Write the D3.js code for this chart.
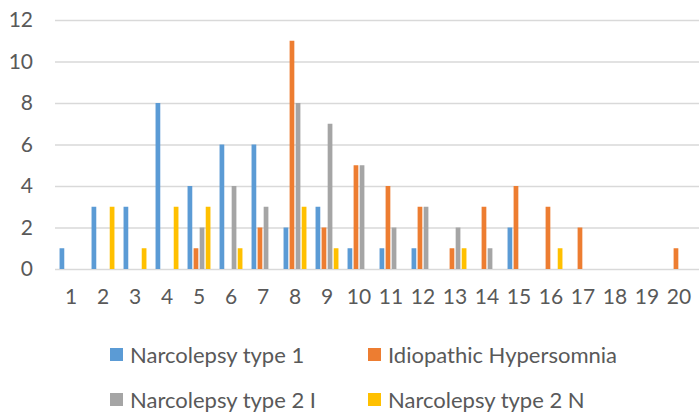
<!DOCTYPE html>
<html>
<head>
<meta charset="utf-8">
<script src="https://cdn.jsdelivr.net/npm/d3@7"></script>
<style>
  body { margin: 0; background: #fff; }
  svg { display: block; }
</style>
</head>
<body>
<div id="chart"></div>
<script>
const categories = ['1', '2', '3', '4', '5', '6', '7', '8', '9', '10', '11', '12', '13', '14', '15', '16', '17', '18', '19', '20']
const seriesNames = ['Narcolepsy type 1', 'Idiopathic Hypersomnia', 'Narcolepsy type 2 I', 'Narcolepsy type 2 N']
const seriesColors = ['#5b9bd5', '#ed7d31', '#a5a5a5', '#ffc000']
const nt1 = [1, 3, 3, 8, 4, 6, 6, 2, 3, 1, 1, 1, 0, 0, 2, 0, 0, 0, 0, 0]
const ih = [0, 0, 0, 0, 1, 0, 2, 11, 2, 5, 4, 3, 1, 3, 4, 3, 2, 0, 0, 1]
const nt2i = [0, 0, 0, 0, 2, 4, 3, 8, 7, 5, 2, 3, 2, 1, 0, 0, 0, 0, 0, 0]
const nt2n = [0, 3, 1, 3, 3, 1, 0, 3, 1, 0, 0, 0, 1, 0, 0, 1, 0, 0, 0, 0]
const yTicks = [0, 2, 4, 6, 8, 10, 12]

const seriesValues = [nt1, ih, nt2i, nt2n]
const font = 'Lato, "Open Sans", sans-serif'
const textColor = '#595959'

const svg = d3.select('#chart')
  .append('svg')
  .attr('width', 699)
  .attr('height', 412)

const margin = { top: 20, left: 55 }
const plotRight = 695
const plotBottom = 269

const x = d3.scaleBand().domain(categories).range([margin.left, plotRight]).padding(0)
const x1 = d3.scaleBand().domain(seriesNames).range([0, x.bandwidth()])
  .paddingInner(0.22).paddingOuter(0.75)
const y = d3.scaleLinear().domain([0, 12]).range([plotBottom, margin.top])

// gridlines + y labels
const yAxis = svg.append('g')
  .attr('transform', `translate(${margin.left},0)`)
  .call(d3.axisLeft(y).tickValues(yTicks).tickSize(-(699 - margin.left)).tickPadding(22))
yAxis.select('.domain').remove()
yAxis.selectAll('line').attr('stroke', '#d9d9d9').attr('stroke-width', 1.5)
yAxis.selectAll('text')
  .attr('fill', textColor)
  .style('font-family', font)
  .style('font-size', '21px')

// x labels
const xAxis = svg.append('g')
  .attr('transform', `translate(0,${plotBottom})`)
  .call(d3.axisBottom(x).tickSize(0).tickPadding(20))
xAxis.select('.domain').remove()
xAxis.selectAll('text')
  .attr('fill', textColor)
  .style('font-family', font)
  .style('font-size', '21px')

// bars
const groups = svg.append('g')
  .selectAll('g')
  .data(categories)
  .join('g')
  .attr('transform', (c) => `translate(${x(c)},0)`)

groups.selectAll('rect')
  .data((c, i) => seriesNames.map((s, k) => ({ s, k, v: seriesValues[k][i] })))
  .join('rect')
  .filter((d) => d.v > 0)
  .attr('x', (d) => x1(d.s))
  .attr('y', (d) => y(d.v))
  .attr('width', x1.bandwidth())
  .attr('height', (d) => plotBottom - y(d.v))
  .attr('fill', (d) => seriesColors[d.k])

// legend
const legendPos = [[110, 348], [368, 348], [110, 393], [368, 393]]
const legend = svg.append('g')
  .selectAll('g')
  .data(seriesNames)
  .join('g')
  .attr('transform', (d, i) => `translate(${legendPos[i][0]},${legendPos[i][1]})`)

legend.append('rect')
  .attr('width', 13)
  .attr('height', 13)
  .attr('fill', (d, i) => seriesColors[i])

legend.append('text')
  .attr('x', 20)
  .attr('y', 7)
  .attr('dy', '0.35em')
  .attr('fill', textColor)
  .style('font-family', font)
  .style('font-size', '22px')
  .text((d) => d)
</script>
</body>
</html>
